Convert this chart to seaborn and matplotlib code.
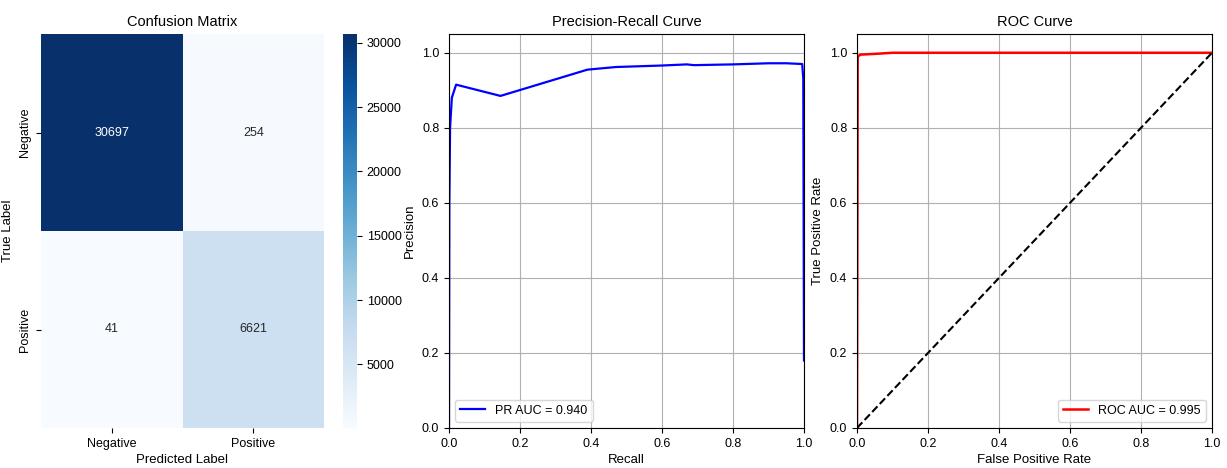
import numpy as np
import pandas as pd
import matplotlib
matplotlib.use("Agg")
import matplotlib.pyplot as plt
import seaborn as sns

# ---- data ----
class_labels = ["Negative", "Positive"]
cm_row_negative = [30697, 254]
cm_row_positive = [41, 6621]

pr_recall = [0.0, 0.001, 0.003, 0.008, 0.02, 0.145, 0.25, 0.39, 0.47, 0.6, 0.67, 0.69, 0.8, 0.9, 0.95, 0.995, 0.998, 1.0]
pr_precision = [0.0, 0.60, 0.80, 0.88, 0.915, 0.885, 0.915, 0.955, 0.962, 0.966, 0.969, 0.967, 0.969, 0.972, 0.972, 0.970, 0.93, 0.18]
pr_auc = 0.940

roc_fpr = [0.0, 0.002, 0.01, 0.05, 0.1, 0.5, 1.0]
roc_tpr = [0.0, 0.99, 0.995, 0.997, 1.0, 1.0, 1.0]
roc_auc = 0.995

diag = [0.0, 1.0]

# ---- fonts ----
plt.rcParams["font.family"] = ["Liberation Sans", "DejaVu Sans"]
tk = 9
lb = 9.5
tt = 10.5

fig = plt.figure(figsize=(12.27, 4.68), dpi=100)
bottom, height = 1 - 428 / 468, (428 - 34) / 468

ax_cm = fig.add_axes([41 / 1227, bottom, (324 - 41) / 1227, height])
ax_cb = fig.add_axes([343 / 1227, bottom, 14 / 1227, height])
ax_pr = fig.add_axes([449 / 1227, bottom, 355 / 1227, height])
ax_roc = fig.add_axes([857 / 1227, bottom, 355 / 1227, height])

cm = pd.DataFrame([cm_row_negative, cm_row_positive], index=class_labels, columns=class_labels)
sns.heatmap(cm, annot=True, fmt="d", cmap="Blues", ax=ax_cm, cbar_ax=ax_cb,
            annot_kws={"fontsize": tk})
ax_cm.set_title("Confusion Matrix", fontsize=tt)
ax_cm.set_xlabel("Predicted Label", fontsize=lb, labelpad=3)
ax_cm.set_ylabel("True Label", fontsize=lb)
ax_cm.tick_params(labelsize=tk)
ax_cb.tick_params(labelsize=tk)

pr_df = pd.DataFrame({"Recall": pr_recall, "Precision": pr_precision})
sns.lineplot(data=pr_df, x="Recall", y="Precision", ax=ax_pr, color="blue", lw=1.6,
             label=f"PR AUC = {pr_auc:.3f}", sort=False, estimator=None)
ax_pr.set_xlim(0, 1)
ax_pr.set_ylim(0, 1.05)
ax_pr.grid(True)
ax_pr.set_title("Precision-Recall Curve", fontsize=tt)
ax_pr.set_xlabel("Recall", fontsize=lb, labelpad=3)
ax_pr.set_ylabel("Precision", fontsize=lb)
ax_pr.tick_params(labelsize=tk)
ax_pr.legend(loc="lower left", fontsize=tk)

roc_df = pd.DataFrame({"FPR": roc_fpr, "TPR": roc_tpr})
sns.lineplot(data=roc_df, x="FPR", y="TPR", ax=ax_roc, color="red", lw=1.8,
             label=f"ROC AUC = {roc_auc:.3f}", sort=False, estimator=None)
ax_roc.plot(diag, diag, "k--", lw=1.5)
ax_roc.set_xlim(0, 1)
ax_roc.set_ylim(0, 1.05)
ax_roc.grid(True)
ax_roc.set_title("ROC Curve", fontsize=tt)
ax_roc.set_xlabel("False Positive Rate", fontsize=lb, labelpad=3)
ax_roc.set_ylabel("True Positive Rate", fontsize=lb)
ax_roc.tick_params(labelsize=tk)
ax_roc.legend(loc="lower right", fontsize=tk)

fig.savefig("out.png", dpi=100)
